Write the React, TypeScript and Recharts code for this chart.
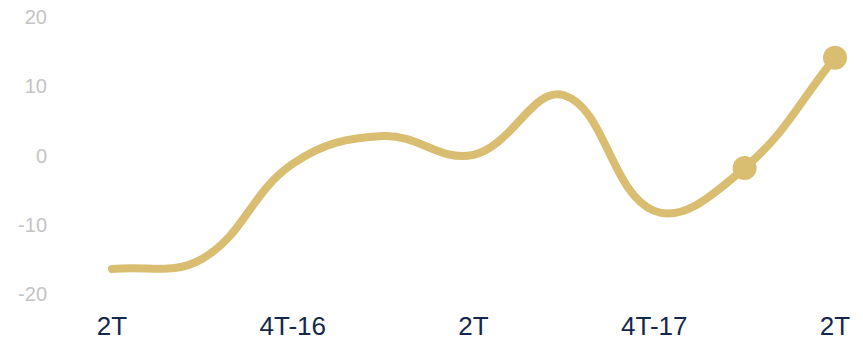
import { LineChart, Line, XAxis, YAxis } from 'recharts';

// quarterly labels, only every other one is shown on the axis
const QUARTERS = ['2T', '3T', '4T-16', '1T', '2T', '3T', '4T-17', '1T', '2T'];
const VALUES = [-16.4, -14.9, -1.2, 2.8, 0.1, 8.7, -8.0, -1.8, 14.1];
const Y_TICKS = [-20, -10, 0, 10, 20];

const GOLD = '#D9BE72';
const FONT = '"Liberation Sans", Arial, sans-serif';

const data = QUARTERS.map((q, i) => ({ q, value: VALUES[i] }));

type Pt = [number, number];

// cardinal-style spline: each point gets bezier handles along (next - prev),
// split by the distance to its neighbours
const tensionSpline = (tension: number) => (context: any) => {
  let pts: Pt[] = [];
  return {
    areaStart() {},
    areaEnd() {},
    lineStart() {
      pts = [];
    },
    point(x: number, y: number) {
      pts.push([+x, +y]);
    },
    lineEnd() {
      const n = pts.length;
      if (!n) return;
      context.moveTo(pts[0][0], pts[0][1]);
      const handles = pts.map((p, i) => {
        const prev = pts[Math.max(0, i - 1)];
        const next = pts[Math.min(n - 1, i + 1)];
        const d01 = Math.hypot(p[0] - prev[0], p[1] - prev[1]);
        const d12 = Math.hypot(next[0] - p[0], next[1] - p[1]);
        const sum = d01 + d12 || 1;
        const fa = (tension * d01) / sum;
        const fb = (tension * d12) / sum;
        const dx = next[0] - prev[0];
        const dy = next[1] - prev[1];
        return { inX: p[0] - fa * dx, inY: p[1] - fa * dy, outX: p[0] + fb * dx, outY: p[1] + fb * dy };
      });
      for (let i = 1; i < n; i++) {
        context.bezierCurveTo(
          handles[i - 1].outX,
          handles[i - 1].outY,
          handles[i].inX,
          handles[i].inY,
          pts[i][0],
          pts[i][1]
        );
      }
    },
  };
};

// markers only on the two most recent quarters
const renderDot = (props: { cx?: number; cy?: number; index?: number }) => {
  const { cx, cy, index } = props;
  if (index === undefined || index < VALUES.length - 2) return <g key={`d-${index}`} />;
  return <circle key={`d-${index}`} cx={cx} cy={cy} r={12} fill={GOLD} />;
};

export default function App() {
  return (
    <div style={{ position: 'absolute', left: 0, top: 0, background: '#fff' }}>
      <LineChart
        width={863}
        height={341}
        data={data}
        margin={{ top: 17, right: 0, bottom: 0, left: 0 }}
      >
        <XAxis
          dataKey="q"
          interval={1}
          axisLine={false}
          tickLine={false}
          height={47}
          tickMargin={17}
          padding={{ left: 57, right: 28 }}
          tick={{ fontSize: 26, fill: '#14284B', fontFamily: FONT }}
        />
        <YAxis
          domain={[-20, 20]}
          ticks={Y_TICKS}
          axisLine={false}
          tickLine={false}
          width={55}
          tick={{ fontSize: 20, fill: '#C4C4C4', fontFamily: FONT }}
        />
        <Line
          type={tensionSpline(0.4) as any}
          dataKey="value"
          stroke={GOLD}
          strokeWidth={8}
          strokeLinecap="round"
          dot={renderDot}
          activeDot={false}
          isAnimationActive={false}
        />
      </LineChart>
    </div>
  );
}
